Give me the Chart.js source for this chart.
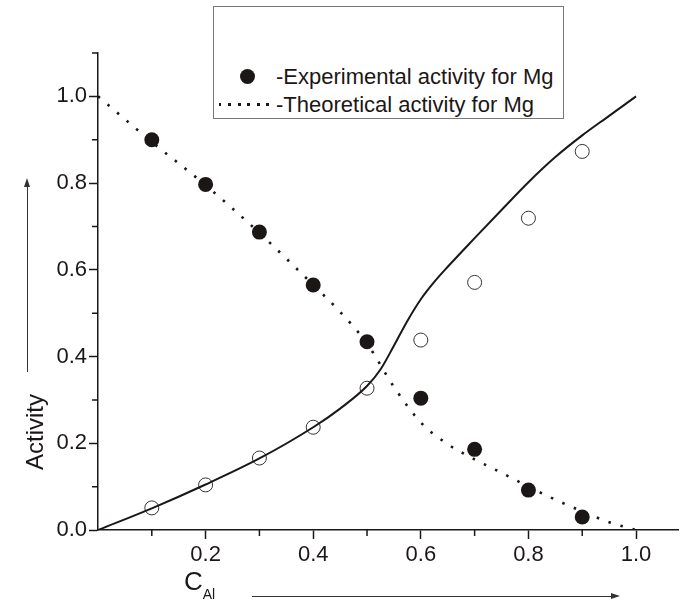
<!DOCTYPE html>
<html>
<head>
<meta charset="utf-8">
<script src="https://cdn.jsdelivr.net/npm/chart.js@4"></script>
<style>
  body { margin: 0; background: #fff; }
  #wrap { position: relative; width: 686px; height: 604px; font-family: 'Liberation Sans', Arial, sans-serif; color: #1c1717; }
  canvas { position: absolute; left: 0; top: 0; }
  .legend { position: absolute; left: 213px; top: 6px; width: 349px; height: 111px; border: 1px solid #777; background: #fff; }
  .row { position: absolute; font-size: 22px; line-height: 24px; white-space: nowrap; }
  .dot { position: absolute; width: 15px; height: 15px; border-radius: 50%; background: #1c1717; }
  .dash { position: absolute; width: 56px; height: 3px; background: repeating-linear-gradient(90deg, #1c1717 0 2.5px, transparent 2.5px 9.5px); }
  .ytitle { position: absolute; left: 35px; top: 432px; font-size: 24px; transform: translate(-50%, -50%) rotate(-90deg); white-space: nowrap; }
  .xtitle { position: absolute; left: 184px; top: 566px; font-size: 26px; }
  .xtitle sub { font-size: 14px; vertical-align: -9px; }
  .arrow-h { position: absolute; left: 252px; top: 596px; width: 360px; border-top: 1.5px solid #333; }
  .arrow-h:after { content: ''; position: absolute; right: -8px; top: -4.5px; border-left: 9px solid #333; border-top: 3.5px solid transparent; border-bottom: 3.5px solid transparent; }
  .arrow-v { position: absolute; left: 27px; top: 186px; height: 186px; border-left: 1.5px solid #333; }
  .arrow-v:after { content: ''; position: absolute; left: -4.5px; top: -8px; border-bottom: 9px solid #333; border-left: 3.5px solid transparent; border-right: 3.5px solid transparent; }
</style>
</head>
<body>
<div id="wrap">
  <canvas id="myChart" width="686" height="604"></canvas>
  <div class="legend">
    <span class="dot" style="left:26px; top:62px;"></span>
    <div class="row" style="left:62px; top:58px;">-Experimental activity for Mg</div>
    <span class="dash" style="left:5px; top:96px;"></span>
    <div class="row" style="left:62px; top:86px;">-Theoretical activity for Mg</div>
  </div>
  <div class="ytitle">Activity</div>
  <div class="arrow-v"></div>
  <div class="xtitle">C<sub>Al</sub></div>
  <div class="arrow-h"></div>
</div>
<script>
'use strict';

// data
let expX = [0.1, 0.2, 0.3, 0.4, 0.5, 0.6, 0.7, 0.8, 0.9];
let mgExp = [0.900, 0.797, 0.687, 0.565, 0.434, 0.304, 0.186, 0.092, 0.030];
let alExp = [0.051, 0.104, 0.166, 0.237, 0.327, 0.438, 0.571, 0.719, 0.873];

let mgTheoryX = [0, 0.1, 0.2, 0.3, 0.4, 0.45, 0.5, 0.55, 0.6, 0.65, 0.7, 0.75, 0.8, 0.85, 0.9, 0.95, 1.0];
let mgTheory = [1.0, 0.895, 0.795, 0.685, 0.565, 0.503, 0.43, 0.33, 0.248, 0.198, 0.163, 0.132, 0.10, 0.07, 0.043, 0.018, 0];

let alTheoryX = [0, 0.1, 0.2, 0.3, 0.4, 0.45, 0.5, 0.525, 0.55, 0.575, 0.6, 0.625, 0.65, 0.7, 0.75, 0.8, 0.85, 0.9, 0.95, 1.0];
let alTheory = [0, 0.05, 0.105, 0.165, 0.237, 0.28, 0.332, 0.37, 0.425, 0.482, 0.532, 0.572, 0.607, 0.673, 0.738, 0.802, 0.86, 0.91, 0.955, 1.0];

// tick labels
let xMajor = [0.2, 0.4, 0.6, 0.8, 1.0];
let xMinor = [0.1, 0.3, 0.5, 0.7, 0.9];
let yMajor = [0.0, 0.2, 0.4, 0.6, 0.8, 1.0];
let yMinor = [0.1, 0.3, 0.5, 0.7, 0.9, 1.1];

let ink = '#1c1717';

function toPoints(xs, ys) {
  return xs.map((x, i) => ({ x: x, y: ys[i] }));
}

// short ticks between the labelled ones
let minorTicks = {
  id: 'minorTicks',
  afterDraw(chart) {
    let ctx = chart.ctx;
    let xs = chart.scales.x;
    let ys = chart.scales.y;
    ctx.save();
    ctx.strokeStyle = ink;
    ctx.lineWidth = 1.5;
    ctx.beginPath();
    for (let i = 0; i < xMinor.length; i++) {
      let px = xs.getPixelForValue(xMinor[i]);
      ctx.moveTo(px, ys.bottom);
      ctx.lineTo(px, ys.bottom + 6);
    }
    for (let i = 0; i < yMinor.length; i++) {
      let py = ys.getPixelForValue(yMinor[i]);
      ctx.moveTo(xs.left, py);
      ctx.lineTo(xs.left - 6, py);
    }
    ctx.stroke();
    ctx.restore();
  }
};

let ctx = document.getElementById('myChart').getContext('2d');
let myChart = new Chart(ctx, {
  type: 'scatter',
  data: {
    datasets: [{
      label: 'Theoretical activity for Al',
      data: toPoints(alTheoryX, alTheory),
      showLine: true,
      borderColor: ink,
      borderWidth: 2,
      pointRadius: 0,
      cubicInterpolationMode: 'monotone'
    }, {
      label: 'Theoretical activity for Mg',
      data: toPoints(mgTheoryX, mgTheory),
      showLine: true,
      borderColor: ink,
      borderWidth: 2.6,
      borderDash: [2.5, 10],
      borderCapStyle: 'butt',
      pointRadius: 0,
      cubicInterpolationMode: 'monotone'
    }, {
      label: 'Experimental activity for Al',
      data: toPoints(expX, alExp),
      pointRadius: 7,
      pointBackgroundColor: 'rgba(255,255,255,0)',
      pointBorderColor: '#333',
      pointBorderWidth: 1
    }, {
      label: 'Experimental activity for Mg',
      data: toPoints(expX, mgExp),
      pointRadius: 7.5,
      pointBackgroundColor: ink,
      pointBorderColor: ink,
      pointBorderWidth: 0
    }]
  },
  options: {
    responsive: false,
    animation: false,
    layout: { padding: { top: 53, right: 0, left: 0, bottom: 0 } },
    plugins: {
      legend: { display: false },
      tooltip: { enabled: false }
    },
    scales: {
      x: {
        type: 'linear',
        min: 0,
        max: 1.078,
        afterBuildTicks: (scale) => { scale.ticks = xMajor.map(v => ({ value: v })); },
        afterFit: (scale) => { scale.height = 74; },
        border: { display: true, color: ink, width: 1.5 },
        grid: { drawOnChartArea: false, drawTicks: true, tickLength: 9, tickColor: ink, tickWidth: 1.5 },
        ticks: {
          color: ink,
          padding: 3,
          maxRotation: 0,
          font: { family: "'Liberation Sans', Arial, sans-serif", size: 22 },
          callback: (v) => Number(v).toFixed(1)
        }
      },
      y: {
        type: 'linear',
        min: 0,
        max: 1.1,
        afterBuildTicks: (scale) => { scale.ticks = yMajor.map(v => ({ value: v })); },
        afterFit: (scale) => { scale.width = 98; },
        border: { display: true, color: ink, width: 1.5 },
        grid: { drawOnChartArea: false, drawTicks: true, tickLength: 9, tickColor: ink, tickWidth: 1.5 },
        ticks: {
          color: ink,
          padding: 2,
          font: { family: "'Liberation Sans', Arial, sans-serif", size: 22 },
          callback: (v) => Number(v).toFixed(1)
        }
      }
    }
  },
  plugins: [minorTicks]
});
</script>
</body>
</html>
